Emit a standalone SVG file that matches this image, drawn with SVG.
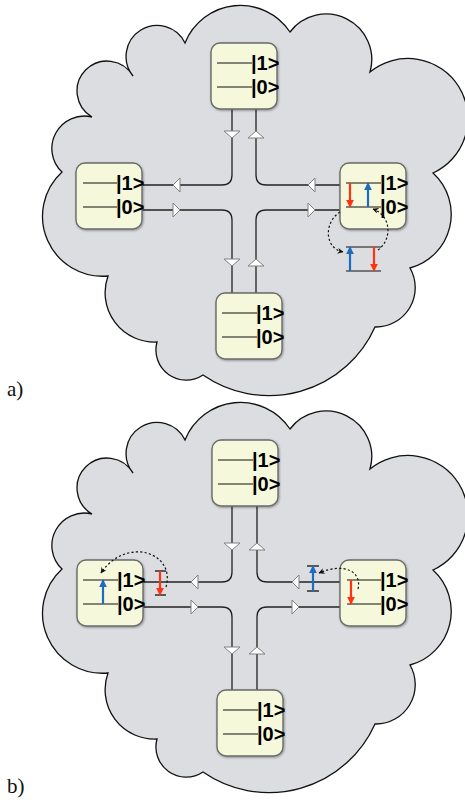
<svg xmlns="http://www.w3.org/2000/svg" xmlns:xlink="http://www.w3.org/1999/xlink" width="465" height="800" viewBox="0 0 465 800">
<defs>
<style>
.cloud{fill:#dcdde0;stroke:#111;stroke-width:1.3}
.box{fill:#f6f8dc;stroke:#6a6a6a;stroke-width:1.4}
.lvl{stroke:#111;stroke-width:1.2}
.ket{font-family:"Liberation Sans",Arial,sans-serif;font-weight:bold;font-size:20px;fill:#000}
.wire{fill:none;stroke:#222;stroke-width:1.3}
.tri{fill:#fff;stroke:#808080;stroke-width:1}
.red{stroke:#ff3311;stroke-width:2.2;fill:none}
.blue{stroke:#1c6cc0;stroke-width:2.2;fill:none}
.bar{stroke:#111;stroke-width:1.3}
.dot{fill:none;stroke:#111;stroke-width:1.2;stroke-dasharray:2.2,2.2}
.lbl{font-family:"Liberation Serif","Times New Roman",serif;font-size:21px;fill:#111}
</style>
<filter id="sh" x="-20%" y="-20%" width="140%" height="140%">
<feDropShadow dx="0.8" dy="1" stdDeviation="0.9" flood-color="#000" flood-opacity="0.35"/>
</filter>
<marker id="mr" viewBox="0 0 10 10" refX="9" refY="5" markerWidth="8" markerHeight="8" markerUnits="userSpaceOnUse" orient="auto">
<path d="M0,0 L10,5 L0,10 z" fill="#ff3311"/>
</marker>
<marker id="mb" viewBox="0 0 10 10" refX="9" refY="5" markerWidth="8" markerHeight="8" markerUnits="userSpaceOnUse" orient="auto">
<path d="M0,0 L10,5 L0,10 z" fill="#1c6cc0"/>
</marker>
<marker id="md" viewBox="0 0 10 10" refX="9" refY="5" markerWidth="6" markerHeight="6" markerUnits="userSpaceOnUse" orient="auto">
<path d="M0,0 L10,5 L0,10 L3,5 z" fill="#111"/>
</marker>
<path id="cloudShape" d="M185,43 A59.6,59.6 0 0 1 290,32 A45.5,45.5 0 0 1 370,72 A60,60 0 1 1 433,173 A55.7,55.7 0 0 1 410,268 A39.4,39.4 0 0 1 375,327 A116,116 0 0 1 203,375 A30.2,30.2 0 0 1 157,342 A49.4,49.4 0 0 1 108,276 A60,60 0 0 1 62,172 A32.4,32.4 0 0 1 92,117 A30,30 0 1 1 133,76 A31,31 0 1 1 185,43 Z"/>
</defs>

<!-- Panel a -->
<g id="cloud-a"><use xlink:href="#cloudShape" href="#cloudShape" class="cloud"/></g>

<g id="connectors-a">
<path class="wire" d="M232,109 V175 Q232,185 222,185 H142"/>
<path class="wire" d="M256,109 V175 Q256,185 266,185 H340"/>
<path class="wire" d="M142,210 H222 Q232,210 232,220 V293"/>
<path class="wire" d="M340,210 H266 Q256,210 256,220 V293"/>
<polygon class="tri" points="224,131 240,131 232,138"/>
<polygon class="tri" points="248,138 264,138 256,131"/>
<polygon class="tri" points="180,178 180,192 173,185"/>
<polygon class="tri" points="173,203 173,217 180,210"/>
<polygon class="tri" points="315,178 315,192 308,185"/>
<polygon class="tri" points="308,203 308,217 315,210"/>
<polygon class="tri" points="224,259 240,259 232,266"/>
<polygon class="tri" points="248,266 264,266 256,259"/>
</g>

<g id="a-top">
<rect class="box" filter="url(#sh)" x="211" y="43" width="66" height="66" rx="9"/>
<line class="lvl" x1="217" y1="63" x2="252" y2="63"/>
<line class="lvl" x1="217" y1="87" x2="252" y2="87"/>
<text class="ket" x="251" y="70">|1&gt;</text>
<text class="ket" x="251" y="94">|0&gt;</text>
</g>
<g id="a-left">
<rect class="box" filter="url(#sh)" x="76" y="163" width="66" height="66" rx="9"/>
<line class="lvl" x1="83" y1="183" x2="117" y2="183"/>
<line class="lvl" x1="83" y1="207" x2="117" y2="207"/>
<text class="ket" x="116" y="190">|1&gt;</text>
<text class="ket" x="116" y="214">|0&gt;</text>
</g>
<g id="a-right">
<rect class="box" filter="url(#sh)" x="340" y="163" width="66" height="66" rx="9"/>
<line class="lvl" x1="346" y1="183" x2="381" y2="183"/>
<line class="lvl" x1="346" y1="207" x2="381" y2="207"/>
<text class="ket" x="380" y="190">|1&gt;</text>
<text class="ket" x="380" y="214">|0&gt;</text>
<line class="red" x1="350" y1="183" x2="350" y2="207" marker-end="url(#mr)"/>
<line class="blue" x1="368" y1="207" x2="368" y2="183" marker-end="url(#mb)"/>
</g>
<g id="a-ancilla">
<line class="lvl" x1="346" y1="247" x2="381" y2="247"/>
<line class="lvl" x1="346" y1="271" x2="381" y2="271"/>
<line class="blue" x1="350" y1="271" x2="350" y2="247" marker-end="url(#mb)"/>
<line class="red" x1="374" y1="247" x2="374" y2="271" marker-end="url(#mr)"/>
<path class="dot" d="M340,212 C324,222 324,248 343,252" marker-end="url(#md)"/>
<path class="dot" d="M378,250 C392,240 392,216 373,209" marker-end="url(#md)"/>
</g>
<g id="a-bottom">
<rect class="box" filter="url(#sh)" x="216" y="293" width="66" height="66" rx="9"/>
<line class="lvl" x1="222" y1="313" x2="257" y2="313"/>
<line class="lvl" x1="222" y1="337" x2="257" y2="337"/>
<text class="ket" x="256" y="320">|1&gt;</text>
<text class="ket" x="256" y="344">|0&gt;</text>
</g>
<text class="lbl" x="7" y="396">a)</text>

<!-- Panel b -->
<g id="cloud-b"><use xlink:href="#cloudShape" href="#cloudShape" class="cloud" transform="translate(0,397)"/></g>

<g id="connectors-b">
<path class="wire" d="M232,506 V572 Q232,582 222,582 H142"/>
<path class="wire" d="M257,506 V572 Q257,582 267,582 H340"/>
<path class="wire" d="M142,607 H222 Q232,607 232,617 V690"/>
<path class="wire" d="M340,607 H267 Q257,607 257,617 V690"/>
<polygon class="tri" points="224,543 240,543 232,550"/>
<polygon class="tri" points="249,550 265,550 257,543"/>
<polygon class="tri" points="198,575 198,589 191,582"/>
<polygon class="tri" points="191,600 191,614 198,607"/>
<polygon class="tri" points="299,575 299,589 292,582"/>
<polygon class="tri" points="292,600 292,614 299,607"/>
<polygon class="tri" points="224,647 240,647 232,654"/>
<polygon class="tri" points="249,654 265,654 257,647"/>
</g>

<g id="b-top">
<rect class="box" filter="url(#sh)" x="212" y="440" width="66" height="66" rx="9"/>
<line class="lvl" x1="218" y1="460" x2="253" y2="460"/>
<line class="lvl" x1="218" y1="484" x2="253" y2="484"/>
<text class="ket" x="252" y="467">|1&gt;</text>
<text class="ket" x="252" y="491">|0&gt;</text>
</g>
<g id="b-left">
<rect class="box" filter="url(#sh)" x="77" y="560" width="66" height="66" rx="9"/>
<line class="lvl" x1="83" y1="580" x2="118" y2="580"/>
<line class="lvl" x1="83" y1="604" x2="118" y2="604"/>
<text class="ket" x="117" y="587">|1&gt;</text>
<text class="ket" x="117" y="611">|0&gt;</text>
<line class="blue" x1="103" y1="604" x2="103" y2="580" marker-end="url(#mb)"/>
</g>
<g id="b-left-pulse">
<line class="bar" x1="155" y1="571" x2="166" y2="571"/>
<line class="bar" x1="155" y1="595" x2="166" y2="595"/>
<line class="red" x1="160" y1="571" x2="160" y2="595" marker-end="url(#mr)"/>
<path class="dot" d="M166,587 C176,552 126,536 101,573" marker-end="url(#md)"/>
</g>
<g id="b-right">
<rect class="box" filter="url(#sh)" x="340" y="560" width="66" height="66" rx="9"/>
<line class="lvl" x1="347" y1="580" x2="381" y2="580"/>
<line class="lvl" x1="347" y1="604" x2="381" y2="604"/>
<text class="ket" x="380" y="587">|1&gt;</text>
<text class="ket" x="380" y="611">|0&gt;</text>
<line class="red" x1="351" y1="580" x2="351" y2="604" marker-end="url(#mr)"/>
</g>
<g id="b-right-pulse">
<line class="bar" x1="307" y1="566" x2="319" y2="566"/>
<line class="bar" x1="307" y1="591" x2="319" y2="591"/>
<line class="blue" x1="313" y1="591" x2="313" y2="566" marker-end="url(#mb)"/>
<path class="dot" d="M358,589 C362,572 345,562 319,573" marker-end="url(#md)"/>
</g>
<g id="b-bottom">
<rect class="box" filter="url(#sh)" x="217" y="690" width="66" height="66" rx="9"/>
<line class="lvl" x1="223" y1="710" x2="258" y2="710"/>
<line class="lvl" x1="223" y1="734" x2="258" y2="734"/>
<text class="ket" x="257" y="717">|1&gt;</text>
<text class="ket" x="257" y="741">|0&gt;</text>
</g>
<text class="lbl" x="7" y="793">b)</text>
</svg>
